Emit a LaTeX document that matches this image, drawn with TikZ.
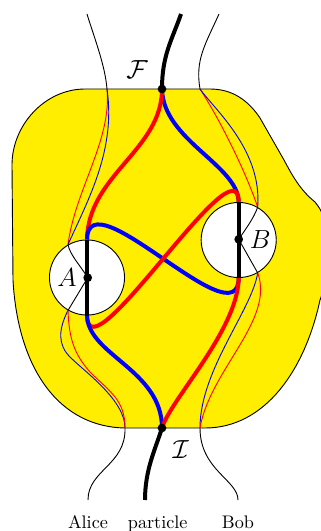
\documentclass[tikz,border=0pt]{standalone}
\usetikzlibrary{positioning}

\definecolor{region}{RGB}{255,238,0}

\begin{document}
\begin{tikzpicture}[
    x=0.55pt, y=-0.55pt,
    lab/.style={circle, draw, fill=white, line width=0.5pt,
                minimum size=41.3pt, inner sep=0pt},
    event/.style={circle, fill=black, minimum size=4.8pt, inner sep=0pt},
    worldline/.style={line width=2.2pt},
    agent/.style={line width=0.5pt},
    tag/.style={font=\Large},
    who/.style={text height=1.5ex, text depth=.25ex}
  ]
  \useasboundingbox (0,0) rectangle (321,531);

  % Spacetime region
  \filldraw[fill=region, line width=0.5pt]
    (85,89) -- (210,89) .. controls (232,89) and (248,100) .. (260,118)
    -- (284,160) .. controls (292,175) and (300,190) .. (315,202)
    .. controls (335,225) and (330,275) .. (320,300)
    .. controls (305,370) and (265,428) .. (205,428) -- (127,428)
    .. controls (60,428) and (18,370) .. (13,280) -- (12,165)
    .. controls (12,125) and (45,89) .. (85,89) -- cycle;

  % Events and laboratories
  \coordinate (F) at (162,89);
  \coordinate (I) at (162,428);
  \node[lab] (lab_a) at (87,277.5) {};
  \node[lab] (lab_b) at (238.7,240) {};
  \coordinate (A) at (87.7,277.7);
  \coordinate (B) at (238.7,239.3);

  % Ends of the world lines
  \coordinate (alice_top) at (87,14);
  \coordinate (particle_top) at (181,14);
  \coordinate (bob_top) at (219,14);
  \coordinate (alice_f) at (107,89);
  \coordinate (bob_f) at (200,89);
  \coordinate (alice_i) at (125,428);
  \coordinate (bob_i) at (200,428);
  \coordinate (alice_bot) at (88,500);
  \coordinate (particle_bot) at (145,500);
  \coordinate (bob_bot) at (238,500);

  % Particle: two orders
  \draw[worldline, blue] (F) .. controls (163,140) and (238,165) .. (lab_b.north);
  \draw[worldline, red] (F) .. controls (162,150) and (88,175) .. (lab_a.north);
  \draw[worldline, blue] (lab_a.north) .. controls (88,175) and (238,342)
    .. (lab_b.south);
  \draw[worldline, red] (lab_b.north) .. controls (238,137) and (88,381)
    .. (lab_a.south);
  \draw[worldline, blue] (I) .. controls (162,370) and (88,355) .. (lab_a.south);
  \draw[worldline, red] (I) .. controls (170,400) and (238,330) .. (lab_b.south);

  % Alice
  \draw[agent, red] (alice_f) .. controls (112,140) and (75,190) .. (lab_a.120);
  \draw[agent, blue] (alice_f) .. controls (116,150) and (88,200) .. (lab_a.120);
  \draw[agent, blue] (lab_a.240) .. controls (58,330) and (58,345) .. (70,357)
    .. controls (85,372) and (125,400) .. (alice_i);
  \draw[agent, red] (lab_a.240) .. controls (69,340) and (75,355) .. (90,372)
    .. controls (110,392) and (125,400) .. (alice_i);

  % Bob
  \draw[agent, red] (bob_f) .. controls (220,120) and (245,170) .. (lab_b.60);
  \draw[agent, blue] (bob_f) .. controls (215,110) and (262,150) .. (lab_b.60);
  \draw[agent, blue] (lab_b.300) .. controls (252,310) and (200,370) .. (bob_i);
  \draw[agent, red] (lab_b.300) .. controls (275,320) and (210,370) .. (bob_i);

  % Outside the region
  \draw[worldline] (particle_top) .. controls (172,40) and (162,55) .. (F);
  \draw[worldline] (I) .. controls (155,450) and (145,470) .. (particle_bot);
  \draw[agent] (alice_top) .. controls (95,40) and (105,65) .. (alice_f);
  \draw[agent] (alice_i) .. controls (126,465) and (88,470) .. (alice_bot);
  \draw[agent] (bob_top) .. controls (205,45) and (195,60) .. (bob_f);
  \draw[agent] (bob_i) .. controls (200,470) and (238,480) .. (bob_bot);

  % Inside the laboratories
  \draw[worldline] (lab_a.north) -- (lab_a.south);
  \draw[worldline] (lab_b.north) -- (lab_b.south);
  \draw[agent] (lab_a.120) .. controls (70,255) and (80,265) .. (A) -- (lab_a.240);
  \draw[agent] (lab_b.60) .. controls (254,218) and (245,230) .. (B) -- (lab_b.300);

  \node[event] (f_dot) at (F) {};
  \node[event] (i_dot) at (I) {};
  \node[event] (a_dot) at (A) {};
  \node[event] (b_dot) at (B) {};

  % Labels
  \node[tag, above left=0.4pt and 2.4pt of f_dot] (f_tag) {$\mathcal{F}$};
  \node[tag, below right=1.6pt and 0.5pt of i_dot] (i_tag) {$\mathcal{I}$};
  \node[tag, left=0pt of a_dot] (a_tag) {$A$};
  \node[tag, right=0pt of b_dot] (b_tag) {$B$};
  \node[who, below=5.5pt of alice_bot] (alice) {Alice};
  \node[who, below=5.5pt of particle_bot, xshift=7pt] (particle) {particle};
  \node[who, below=5.5pt of bob_bot] (bob) {Bob};

\end{tikzpicture}
\end{document}
